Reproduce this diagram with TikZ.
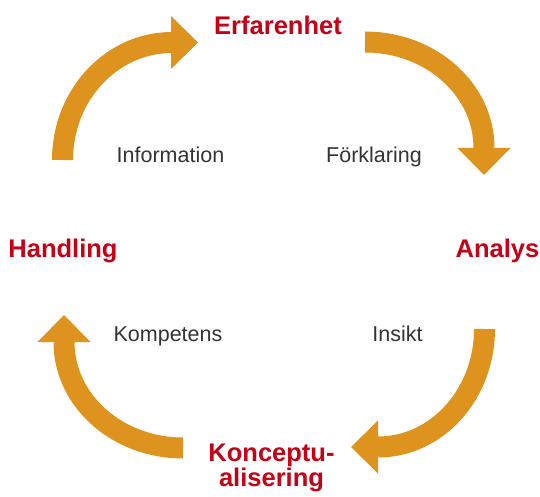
\documentclass[tikz,border=0pt]{standalone}
\usepackage{fontspec}
\setmainfont{Liberation Sans}
\usetikzlibrary{arrows.meta}
\definecolor{cycleorange}{RGB}{222,147,30}
\definecolor{cyclered}{RGB}{196,0,22}
\definecolor{cyclegray}{RGB}{51,51,51}

\begin{document}
\begin{tikzpicture}[x=1pt,y=-1pt,
        stage/.style={text=cyclered,font=\fontsize{25.5}{25}\selectfont\bfseries,anchor=base,inner sep=0pt,align=center},
        gain/.style={text=cyclegray,font=\fontsize{21.5}{21.5}\selectfont,anchor=base,inner sep=0pt},
        turn/.style={draw=cycleorange,line width=21pt,-{Triangle[width=53pt,length=27pt,line width=0pt]}}]
    \useasboundingbox (0,0) rectangle (540,497);

    \node[stage] (erfarenhet) at (278,35) {Erfarenhet};
    \node[stage] (analys) at (497.5,257) {Analys};
    \node[stage] (konceptualisering) at (271.5,486) {Konceptu-\\alisering};
    \node[stage] (handling) at (63,257) {Handling};

    \node[gain] (information) at (170.5,162) {Information};
    \node[gain] (forklaring) at (374,162) {Förklaring};
    \node[gain] (insikt) at (397.5,341) {Insikt};
    \node[gain] (kompetens) at (168,341) {Kompetens};

    % start and tip of each arc
    \coordinate (a1) at (62.5,160);  \coordinate (b1) at (198,42.5);
    \coordinate (a2) at (365,42);    \coordinate (b2) at (484,175);
    \coordinate (a3) at (484.5,329); \coordinate (b3) at (351,447);
    \coordinate (a4) at (183,448);   \coordinate (b4) at (64,315);

    \draw[turn] (a1) arc[start angle=180,end angle=270,x radius=109.5,y radius=117.5] -- (b1);
    \draw[turn] (a2) arc[start angle=270,end angle=360,x radius=119,y radius=106] -- (b2);
    \draw[turn] (a3) arc[start angle=0,end angle=90,x radius=106.5,y radius=118] -- (b3);
    \draw[turn] (a4) arc[start angle=90,end angle=180,x radius=119,y radius=106] -- (b4);
\end{tikzpicture}
\end{document}
